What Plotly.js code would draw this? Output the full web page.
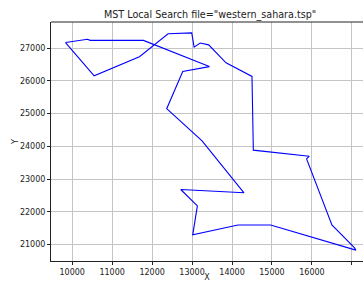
<!DOCTYPE html>
<html>
<head>
<meta charset="utf-8">
<script src="https://cdn.plot.ly/plotly-3.0.1.min.js"></script>
<style>html,body{margin:0;padding:0;background:#fff;}#chart{width:363px;height:282px;}</style>
</head>
<body>
<div id="chart"></div>
<script>
// Tour through western_sahara.tsp cities (closed loop)
const tourX = [9833.33, 10383.33, 10450.00, 11783.33, 13433.33, 12766.67, 12365.83, 13250.00, 14300.00, 12716.67, 13133.33, 13016.67, 14150.00, 14966.67, 17100.00, 17066.67, 16500.00, 15866.67, 15933.33, 14533.33, 14500.00, 13850.00, 13415.83, 13203.33, 13051.94, 12992.22, 12400.00, 11683.33, 10550.00, 9833.33];
const tourY = [27166.67, 27266.67, 27233.33, 27233.33, 26433.33, 26283.33, 25149.17, 24166.67, 22583.33, 22683.33, 22183.33, 21300.00, 21600.00, 21600.00, 20833.33, 20900.00, 21600.00, 23616.67, 23700.00, 23883.33, 26133.33, 26550.00, 27096.11, 27153.61, 27026.11, 27462.50, 27433.33, 26733.33, 26150.00, 27166.67];
const xTicks = [10000, 11000, 12000, 13000, 14000, 15000, 16000, 17000];
const yTicks = [21000, 22000, 23000, 24000, 25000, 26000, 27000];
const titleText = 'MST Local Search file="western_sahara.tsp"';

const font = 'DejaVu Sans, sans-serif';
const trace = {
  x: tourX, y: tourY, type: 'scatter', mode: 'lines',
  line: {color: '#0000ff', width: 1.1}, hoverinfo: 'skip'
};
const layout = {
  width: 363, height: 282,
  margin: {l: 51, r: 0, t: 22, b: 21, pad: 0},
  paper_bgcolor: '#ffffff', plot_bgcolor: '#ffffff',
  showlegend: false,
  font: {family: font, color: '#222222', size: 8},
  title: {text: titleText, font: {family: font, size: 9.6, color: '#222222'},
          x: 0.51, xref: 'paper', xanchor: 'center', y: 0.948, yref: 'container', yanchor: 'middle'},
  shapes: [{type: 'line', xref: 'paper', yref: 'paper', x0: 0, x1: 1.05, y0: 1, y1: 1,
            line: {color: '#222222', width: 1}}],
  xaxis: {
    range: [9470, 17278], tickvals: xTicks, ticktext: xTicks.map(String),
    showgrid: true, gridcolor: '#c4c4c4', gridwidth: 1,
    zeroline: false, showline: true, linecolor: '#222222', linewidth: 1, mirror: false,
    ticks: 'outside', ticklen: 3, tickcolor: '#222222', tickwidth: 1,
    tickfont: {family: font, size: 8, color: '#222222'},
    title: {text: 'X', font: {family: font, size: 8, color: '#222222'}, standoff: 4},
    automargin: false
  },
  yaxis: {
    range: [20501.9, 27794], tickvals: yTicks, ticktext: yTicks.map(String),
    showgrid: true, gridcolor: '#c4c4c4', gridwidth: 1,
    zeroline: false, showline: true, linecolor: '#222222', linewidth: 1, mirror: false,
    ticks: 'outside', ticklen: 3, tickcolor: '#222222', tickwidth: 1,
    tickfont: {family: font, size: 8, color: '#222222'},
    title: {text: 'Y', font: {family: font, size: 8, color: '#222222'}, standoff: 0},
    automargin: false
  }
};
Plotly.newPlot('chart', [trace], layout, {staticPlot: true, displayModeBar: false});
</script>
</body>
</html>
